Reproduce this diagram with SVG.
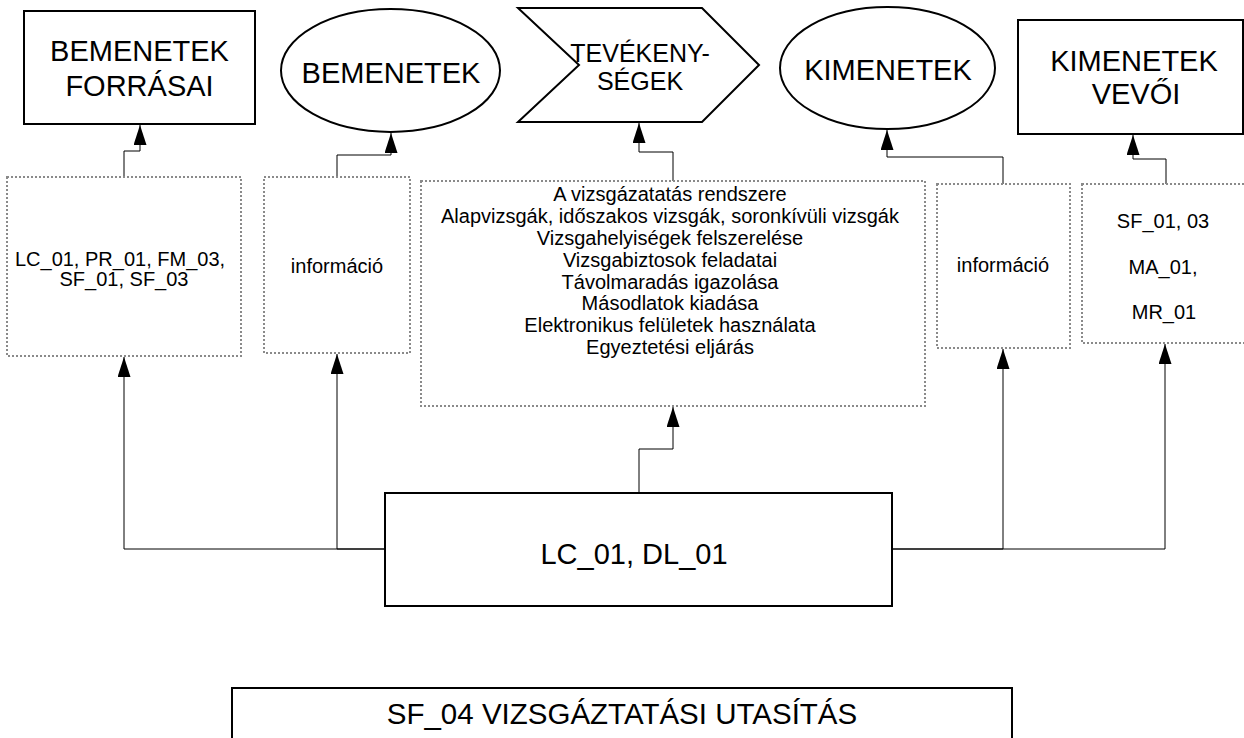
<svg xmlns="http://www.w3.org/2000/svg" width="1244" height="738" viewBox="0 0 1244 738">
<style>
  .node { fill: #fff; stroke: #000; stroke-width: 2; }
  .dot { fill: #fff; stroke: #8a8a8a; stroke-width: 2; stroke-dasharray: 2 2; }
  .conn { fill: none; stroke: #000; stroke-width: 1; marker-end: url(#arr); }
  text { font-family: "Liberation Sans", Arial, sans-serif; fill: #000; text-anchor: middle; }
  .big { font-size: 29px; }
  .mid { font-size: 25px; }
  .sm { font-size: 20px; }
</style>
<defs>
  <marker id="arr" markerWidth="20" markerHeight="13" refX="20" refY="6.5" orient="auto" markerUnits="userSpaceOnUse" viewBox="0 0 20 13">
    <path d="M0,0 L20,6.5 L0,13 Z" fill="#000"/>
  </marker>
</defs>
<rect width="1244" height="738" fill="#fff"/>

<g id="connectors">
  <path class="conn" d="M124,177 V151 H140 V125"/>
  <path class="conn" d="M337,177 V155 H391 V133"/>
  <path class="conn" d="M673,181 V152 H639 V123"/>
  <path class="conn" d="M1003,184 V157 H887 V130"/>
  <path class="conn" d="M1166,184 V159 H1133 V135"/>
  <path class="conn" d="M385,549 H124 V357"/>
  <path class="conn" d="M385,549 H337 V354"/>
  <path class="conn" d="M639,493 V449 H673 V407"/>
  <path class="conn" d="M892,549 H1003 V349"/>
  <path class="conn" d="M892,549 H1165 V344"/>
</g>

<g id="bemenetek-forrasai">
  <rect class="node" x="24" y="11" width="231" height="113"/>
  <text class="big" x="139.5" y="61">BEMENETEK</text>
  <text class="big" x="139.5" y="96">FORRÁSAI</text>
</g>
<g id="bemenetek">
  <ellipse class="node" cx="390.5" cy="70.5" rx="109.5" ry="61.5"/>
  <text class="big" x="391" y="83">BEMENETEK</text>
</g>
<g id="tevekenysegek">
  <polygon class="node" points="518,8 702,8 759,65 702,122 518,122 579,65"/>
  <text class="mid" x="640" y="62">TEVÉKENY-</text>
  <text class="mid" x="640" y="90">SÉGEK</text>
</g>
<g id="kimenetek">
  <ellipse class="node" cx="887.5" cy="68" rx="107.5" ry="61"/>
  <text class="big" x="888" y="80">KIMENETEK</text>
</g>
<g id="kimenetek-vevoi">
  <rect class="node" x="1018" y="20" width="225" height="114"/>
  <text class="big" x="1134" y="71">KIMENETEK</text>
  <text class="big" x="1136" y="104">VEVŐI</text>
</g>

<g id="box-inputs-src">
  <rect class="dot" x="7" y="177" width="234" height="179"/>
  <text class="sm" x="120" y="266">LC_01, PR_01, FM_03,</text>
  <text class="sm" x="124" y="286">SF_01, SF_03</text>
</g>
<g id="box-info-in">
  <rect class="dot" x="264" y="177" width="146" height="176"/>
  <text class="sm" x="337" y="273">információ</text>
</g>
<g id="box-activities">
  <rect class="dot" x="421" y="181" width="504" height="225"/>
  <text class="sm" x="670" y="201">A vizsgázatatás rendszere</text>
  <text class="sm" x="670" y="223">Alapvizsgák, időszakos vizsgák, soronkívüli vizsgák</text>
  <text class="sm" x="670" y="245">Vizsgahelyiségek felszerelése</text>
  <text class="sm" x="670" y="267">Vizsgabiztosok feladatai</text>
  <text class="sm" x="670" y="289">Távolmaradás igazolása</text>
  <text class="sm" x="670" y="310">Másodlatok kiadása</text>
  <text class="sm" x="670" y="332">Elektronikus felületek használata</text>
  <text class="sm" x="670" y="354">Egyeztetési eljárás</text>
</g>
<g id="box-info-out">
  <rect class="dot" x="937" y="184" width="133" height="164"/>
  <text class="sm" x="1003" y="272">információ</text>
</g>
<g id="box-customers">
  <rect class="dot" x="1082" y="184" width="170" height="159"/>
  <text class="sm" x="1163" y="228">SF_01, 03</text>
  <text class="sm" x="1163" y="274">MA_01,</text>
  <text class="sm" x="1164" y="319">MR_01</text>
</g>

<g id="lc-dl">
  <rect class="node" x="385" y="493" width="507" height="113"/>
  <text style="font-size:29px" x="634" y="564">LC_01, DL_01</text>
</g>
<g id="sf04">
  <rect class="node" x="232" y="688" width="780" height="60"/>
  <text style="font-size:29.5px" x="622" y="724">SF_04 VIZSGÁZTATÁSI UTASÍTÁS</text>
</g>
</svg>
